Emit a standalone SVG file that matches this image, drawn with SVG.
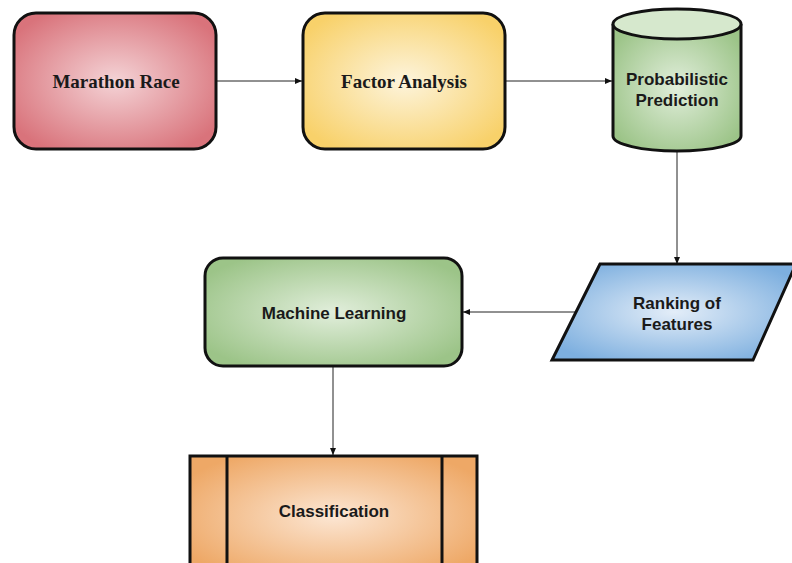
<svg xmlns="http://www.w3.org/2000/svg" width="792" height="563" viewBox="0 0 792 563">
<defs>
<radialGradient id="gRed" cx="50%" cy="50%" r="60%"><stop offset="0" stop-color="#f4d3d6"/><stop offset="1" stop-color="#d9737b"/></radialGradient>
<radialGradient id="gYel" cx="50%" cy="50%" r="60%"><stop offset="0" stop-color="#fdf4dc"/><stop offset="1" stop-color="#f8d16a"/></radialGradient>
<radialGradient id="gGrn" cx="50%" cy="50%" r="60%"><stop offset="0" stop-color="#e1eedb"/><stop offset="1" stop-color="#9cc488"/></radialGradient>
<radialGradient id="gBlu" cx="50%" cy="50%" r="60%"><stop offset="0" stop-color="#e3edf8"/><stop offset="1" stop-color="#7dafdf"/></radialGradient>
<radialGradient id="gOrg" cx="50%" cy="50%" r="60%"><stop offset="0" stop-color="#fce6d3"/><stop offset="1" stop-color="#eea866"/></radialGradient>
<marker id="arr" markerWidth="8" markerHeight="6" refX="7" refY="3" orient="auto" markerUnits="userSpaceOnUse"><path d="M0,0 L7,3 L0,6 Z" fill="#111"/></marker>
<style>
.shape{stroke:#111;stroke-width:3}
.serif{font-family:"Liberation Serif","Times New Roman",serif;font-weight:bold;font-size:19px;fill:#1a1a1a;text-anchor:middle}
.sans{font-family:"Liberation Sans",Arial,sans-serif;font-weight:bold;font-size:17px;fill:#1a1a1a;text-anchor:middle}
.conn{stroke:#222;stroke-width:1;fill:none;marker-end:url(#arr)}
</style>
</defs>
<rect width="792" height="563" fill="#fff"/>
<g id="connectors">
<line class="conn" x1="216" y1="81" x2="302" y2="81"/>
<line class="conn" x1="505" y1="81" x2="612" y2="81"/>
<line class="conn" x1="677" y1="151" x2="677" y2="264"/>
<line class="conn" x1="576" y1="312" x2="463" y2="312"/>
<line class="conn" x1="333" y1="367" x2="333" y2="455"/>
</g>
<g id="marathon-race">
<rect class="shape" x="14" y="13" width="202" height="136" rx="22" fill="url(#gRed)"/>
<text class="serif" x="116" y="88">Marathon Race</text>
</g>
<g id="factor-analysis">
<rect class="shape" x="303" y="13" width="202" height="136" rx="22" fill="url(#gYel)"/>
<text class="serif" x="404" y="88">Factor Analysis</text>
</g>
<g id="probabilistic-prediction">
<path class="shape" d="M613,24 L613,136 A64,15 0 0 0 741,136 L741,24" fill="url(#gGrn)"/>
<ellipse class="shape" cx="677" cy="24" rx="64" ry="15" fill="#d6e8cd"/>
<text class="sans" x="677" y="85">Probabilistic</text>
<text class="sans" x="677" y="106">Prediction</text>
</g>
<g id="ranking-of-features">
<polygon class="shape" points="600,264 796,264 753,360 552,360" fill="url(#gBlu)"/>
<text class="sans" x="677" y="309">Ranking of</text>
<text class="sans" x="677" y="330">Features</text>
</g>
<g id="machine-learning">
<rect class="shape" x="205" y="258" width="257" height="108" rx="18" fill="url(#gGrn)"/>
<text class="sans" x="334" y="319">Machine Learning</text>
</g>
<g id="classification">
<rect class="shape" x="190" y="456" width="287" height="120" fill="url(#gOrg)"/>
<line class="shape" x1="227" y1="456" x2="227" y2="576"/>
<line class="shape" x1="442" y1="456" x2="442" y2="576"/>
<text class="sans" x="334" y="517">Classification</text>
</g>
</svg>
